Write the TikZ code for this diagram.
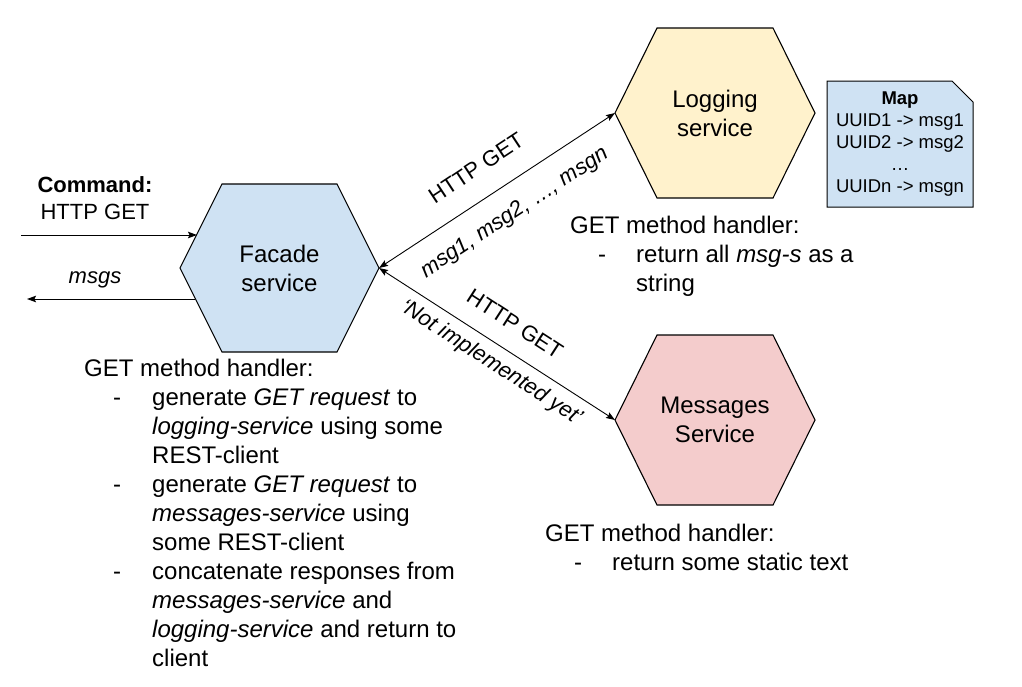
\documentclass[tikz,border=0pt]{standalone}
\usepackage{fontspec}
\setmainfont{Liberation Sans}
\usetikzlibrary{arrows.meta}
\definecolor{hexblue}{HTML}{CFE2F3}
\definecolor{hexyellow}{HTML}{FFF2CC}
\definecolor{hexred}{HTML}{F4CCCC}
\begin{document}
\begin{tikzpicture}[x=1pt,y=-1pt,
  hexa/.style={draw=black, line width=1.1pt, line join=miter},
  hexlabel/.style={font=\fontsize{24}{29}\selectfont, align=center, inner sep=0pt},
  body/.style={font=\fontsize{24}{29}\selectfont, inner sep=0pt, anchor=base west},
  lbl/.style={font=\fontsize{22}{26}\selectfont, inner sep=0pt},
  maptext/.style={font=\fontsize{18.5}{22}\selectfont, align=center, inner sep=0pt},
  conn/.style={line width=0.9pt, -{Stealth[length=9pt,width=6.5pt,inset=1.5pt]}},
  both/.style={line width=0.9pt, {Stealth[length=9pt,width=6.5pt,inset=1.5pt]}-{Stealth[length=9pt,width=6.5pt,inset=1.5pt]}}
]
\useasboundingbox (0,0) rectangle (1022,686);

% ---------- Facade hexagon ----------
\coordinate (fL) at (180,268);
\coordinate (fR) at (379,268);
\fill[hexblue] (fL) -- (222,184) -- (337,184) -- (fR) -- (337,352) -- (222,352) -- cycle;
\draw[hexa] (fL) -- (222,184) -- (337,184) -- (fR) -- (337,352) -- (222,352) -- cycle;
\node[hexlabel] (facade) at (279.5,268) {Facade\\service};

% ---------- Logging hexagon ----------
\coordinate (lL) at (615,113);
\fill[hexyellow] (lL) -- (657,28) -- (773,28) -- (815,113) -- (773,198) -- (657,198) -- cycle;
\draw[hexa] (lL) -- (657,28) -- (773,28) -- (815,113) -- (773,198) -- (657,198) -- cycle;
\node[hexlabel] (logging) at (715,113) {Logging\\service};

% ---------- Messages hexagon ----------
\coordinate (mL) at (615,420);
\fill[hexred] (mL) -- (657,335) -- (773,335) -- (815,420) -- (773,505) -- (657,505) -- cycle;
\draw[hexa] (mL) -- (657,335) -- (773,335) -- (815,420) -- (773,505) -- (657,505) -- cycle;
\node[hexlabel] (messages) at (715,420) {Messages\\Service};

% ---------- Map box ----------
\filldraw[fill=hexblue, draw=black, line width=1pt] (827,81) -- (952,81) -- (973,102) -- (973,207) -- (827,207) -- cycle;
\node[maptext] (map) at (900,144) {\textbf{Map}\\UUID1 -> msg1\\UUID2 -> msg2\\…\\UUIDn -> msgn};

% ---------- Incoming / outgoing arrows ----------
\coordinate (cmdStart) at (21,235);
\coordinate (cmdEnd) at (197,235);
\coordinate (msgsStart) at (195,299);
\coordinate (msgsEnd) at (27,299);
\draw[conn] (cmdStart) -- (cmdEnd);
\draw[conn] (msgsStart) -- (msgsEnd);
\node[lbl, font=\fontsize{22}{26}\selectfont\bfseries] (cmd) at (95,185) {Command:};
\node[lbl] (cmdget) at (95,212) {HTTP GET};
\node[lbl] (msgs) at (95,280) {\textit{msgs}};

% ---------- Service connectors ----------
\draw[both] (fR) -- (lL);
\draw[both] (fR) -- (mL);
\node[lbl, rotate=33.4] (getlog) at (476,168) {HTTP GET};
\node[lbl, rotate=33.4] (retlog) at (515,213) {\textit{msg1, msg2, …, msgn}};
\node[lbl, rotate=-32.9] (getmsg) at (515,324) {HTTP GET};
\node[lbl, rotate=-32.9] (retmsg) at (491,363) {\textit{‘Not implemented yet’}};

% ---------- Facade handler text ----------
\node[body] (fh0) at (84,376) {GET method handler:};
\node[body] (fd1) at (113,405) {-};
\node[body] (fh1) at (152,405) {generate \textit{GET request} to};
\node[body] (fh2) at (152,434) {\textit{logging-service} using some};
\node[body] (fh3) at (152,463) {REST-client};
\node[body] (fd2) at (113,492) {-};
\node[body] (fh4) at (152,492) {generate \textit{GET request} to};
\node[body] (fh5) at (152,521) {\textit{messages-service} using};
\node[body] (fh6) at (152,550) {some REST-client};
\node[body] (fd3) at (113,579) {-};
\node[body] (fh7) at (152,579) {concatenate responses from};
\node[body] (fh8) at (152,608) {\textit{messages-service} and};
\node[body] (fh9) at (152,637) {\textit{logging-service} and return to};
\node[body] (fh10) at (152,666) {client};

% ---------- Logging handler text ----------
\node[body] (lh0) at (570,233) {GET method handler:};
\node[body] (ld1) at (598,262) {-};
\node[body] (lh1) at (636,262) {return all \textit{msg-s} as a};
\node[body] (lh2) at (636,291) {string};

% ---------- Messages handler text ----------
\node[body] (mh0) at (545,541) {GET method handler:};
\node[body] (md1) at (574,570) {-};
\node[body] (mh1) at (612,570) {return some static text};
\end{tikzpicture}
\end{document}
